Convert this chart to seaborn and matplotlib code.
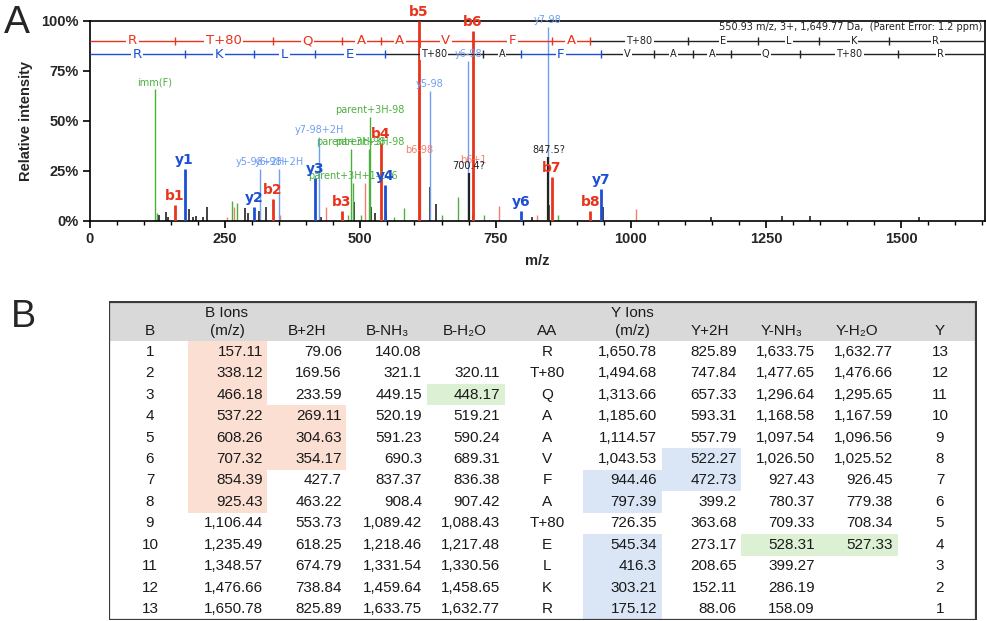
import numpy as np
import pandas as pd
import matplotlib
matplotlib.use("Agg")
import matplotlib.pyplot as plt
import seaborn as sns
from matplotlib.patches import Rectangle
from matplotlib.ticker import MultipleLocator, FuncFormatter

# ---------------- data: fragment table ----------------
aa = ["R", "T+80", "Q", "A", "A", "V", "F", "A", "T+80", "E", "L", "K", "R"]
b_num = [str(i) for i in range(1, 14)]
b_ions = ["157.11", "338.12", "466.18", "537.22", "608.26", "707.32", "854.39", "925.43",
          "1,106.44", "1,235.49", "1,348.57", "1,476.66", "1,650.78"]
b_2h = ["79.06", "169.56", "233.59", "269.11", "304.63", "354.17", "427.7", "463.22",
        "553.73", "618.25", "674.79", "738.84", "825.89"]
b_nh3 = ["140.08", "321.1", "449.15", "520.19", "591.23", "690.3", "837.37", "908.4",
         "1,089.42", "1,218.46", "1,331.54", "1,459.64", "1,633.75"]
b_h2o = ["", "320.11", "448.17", "519.21", "590.24", "689.31", "836.38", "907.42",
         "1,088.43", "1,217.48", "1,330.56", "1,458.65", "1,632.77"]
y_ions = ["1,650.78", "1,494.68", "1,313.66", "1,185.60", "1,114.57", "1,043.53", "944.46",
          "797.39", "726.35", "545.34", "416.3", "303.21", "175.12"]
y_2h = ["825.89", "747.84", "657.33", "593.31", "557.79", "522.27", "472.73", "399.2",
        "363.68", "273.17", "208.65", "152.11", "88.06"]
y_nh3 = ["1,633.75", "1,477.65", "1,296.64", "1,168.58", "1,097.54", "1,026.50", "927.43",
         "780.37", "709.33", "528.31", "399.27", "286.19", "158.09"]
y_h2o = ["1,632.77", "1,476.66", "1,295.65", "1,167.59", "1,096.56", "1,025.52", "926.45",
         "779.38", "708.34", "527.33", "", "", ""]
y_num = [str(i) for i in range(13, 0, -1)]

# highlighted cells (row numbers, 1-based)
hl_b_ions = [1, 2, 3, 4, 5, 6, 7, 8]
hl_b_2h = [4, 5, 6]
hl_b_h2o = [3]
hl_y_ions = [7, 8, 10, 11, 12, 13]
hl_y_2h = [6, 7]
hl_y_nh3 = [10]
hl_y_h2o = [10]

# ---------------- data: spectrum ----------------
b_obs = [1, 2, 3, 4, 5, 6, 7, 8]
b_obs_int = [8, 11, 5, 39, 100, 95, 22, 5]
y_obs = [1, 2, 3, 4, 6, 7]
y_obs_int = [26, 7, 21.5, 18, 5, 16]

nl_labels = ["y5-98", "y6-98", "y7-98", "y5-98+2H", "y6-98+2H", "y7-98+2H", "b6-98", "b6+1"]
nl_mz = [628.35, 699.39, 846.46, 314.68, 350.20, 423.73, 609.30, 708.32]
nl_int = [65, 80, 97, 26, 26, 42, 32, 27]
nl_kind = ["ylight", "ylight", "ylight", "ylight", "ylight", "ylight", "blight", "blight"]

gr_labels = ["imm(F)", "parent+3H-98", "parent+3H-98", "parent+3H-98", "parent+3H+1-106"]
gr_mz = [120.08, 518.26, 483.0, 516.5, 486.0]
gr_int = [66, 52, 36, 36, 19]

unk_labels = ["700.4?", "847.5?"]
unk_mz = [700.4, 847.5]
unk_int = [24, 32]

small_k_mz = [128, 141, 144, 183, 190, 196, 209, 217, 287, 292, 313, 326, 428, 489, 520, 527,
              548, 629, 639, 709, 818, 849, 948, 1148, 1279, 1331, 1533]
small_k_int = [3, 4.5, 2, 6, 2, 2.5, 2, 7, 6.5, 4, 5, 7, 2, 9.5, 7, 4,
               5, 17, 8.5, 3, 2, 8, 7, 2, 2.5, 2.5, 2]
small_g_mz = [124, 263, 272, 478, 502, 563, 580, 650, 680, 728, 865]
small_g_int = [4, 10, 9, 3, 3, 2, 6.5, 3, 12, 3, 3]
small_r_mz = [254, 267, 352, 437, 509, 609, 757, 826, 1009]
small_r_int = [2, 7, 3, 7, 19, 9, 7.5, 3, 6]

info_text = "550.93 m/z, 3+, 1,649.77 Da,  (Parent Error: 1.2 ppm)"

# ---------------- style ----------------
sns.set_theme(style="ticks")
plt.rcParams["font.family"] = ["Liberation Sans", "DejaVu Sans"]

C = {"b": "#e8341c", "y": "#1c4fd4", "blight": "#f3806f", "ylight": "#6f9ff2",
     "g": "#4caf3e", "k": "#222222"}

def to_num(s):
    return float(s.replace(",", ""))

b_mz = [to_num(s) for s in b_ions]
y_mz_desc = [to_num(s) for s in y_ions]
y_mz = y_mz_desc[::-1]          # y1 .. y13

fig = plt.figure(figsize=(9.87, 6.21), dpi=100)
ax = fig.add_axes([90 / 987, 1 - 221 / 621, (985 - 90) / 987, 200 / 621])
XMAX = 1655

# assemble peak table
rows = []
for m, i in zip(small_r_mz, small_r_int):
    rows.append(("", m, i, "blight", 1.0))
for m, i in zip(small_g_mz, small_g_int):
    rows.append(("", m, i, "g", 1.0))
for m, i in zip(small_k_mz, small_k_int):
    rows.append(("", m, i, "k", 1.2))
for l, m, i in zip(gr_labels, gr_mz, gr_int):
    rows.append((l, m, i, "g", 1.0))
for l, m, i, k in zip(nl_labels, nl_mz, nl_int, nl_kind):
    rows.append((l, m, i, k, 1.0))
for l, m, i in zip(unk_labels, unk_mz, unk_int):
    rows.append((l, m, i, "k", 1.6))
for n, i in zip(b_obs, b_obs_int):
    rows.append((f"b{n}", b_mz[n - 1], i, "b", 2.0))
for n, i in zip(y_obs, y_obs_int):
    rows.append((f"y{n}", y_mz[n - 1], i, "y", 2.0))
peaks = pd.DataFrame(rows, columns=["label", "mz", "intensity", "kind", "lw"])

for _, r in peaks.iterrows():
    ax.vlines(r.mz, 0, r.intensity, color=C[r.kind], lw=r.lw, zorder=2 if r.lw < 1.5 else 3)
    if r.label:
        main = r.kind in ("b", "y")
        ax.text(r.mz, r.intensity + 0.8, r.label, ha="center", va="bottom",
                color=C[r.kind], fontsize=10 if main else 7,
                fontweight="bold" if main else "normal",
                family="DejaVu Sans", clip_on=False, zorder=5)

# sequence ladders
def ladder(yv, bounds, letters, observed, color):
    n = len(letters)
    for i in range(n):
        x0 = bounds[i]
        x1 = bounds[i + 1] if i + 1 < n else XMAX
        col = observed[i] and observed[i + 1]
        c = color if col else C["k"]
        ax.plot([x0, x1], [yv, yv], color=c, lw=1.0, zorder=4, solid_capstyle="butt")
        xm = (bounds[i] + bounds[i + 1]) / 2
        ax.text(xm, yv, letters[i], ha="center", va="center", color=c,
                fontsize=9.5 if col else 7, family="DejaVu Sans", zorder=6,
                bbox=dict(boxstyle="square,pad=0.12", fc="white", ec="none"))
    for j in range(1, n):
        c = color if observed[j] else C["k"]
        ax.vlines(bounds[j], yv - 2, yv + 2, color=c, lw=1.0, zorder=7)

b_bounds = [0] + b_mz
b_seen = [True] + [(k + 1) in b_obs for k in range(13)]
ladder(90, b_bounds, aa, b_seen, C["b"])
y_bounds = [0] + y_mz
y_seen = [True] + [(k + 1) in y_obs for k in range(13)]
ladder(83.5, y_bounds, aa[::-1], y_seen, C["y"])

ax.text(0.997, 0.968, info_text, transform=ax.transAxes, ha="right", va="center",
        fontsize=7, family="DejaVu Sans", color="#222222")

ax.set_xlim(0, XMAX)
ax.set_ylim(0, 100)
ax.set_xticks(range(0, 1501, 250))
ax.xaxis.set_minor_locator(MultipleLocator(50))
ax.set_yticks([0, 25, 50, 75, 100])
ax.yaxis.set_major_formatter(FuncFormatter(lambda v, p: f"{int(v)}%"))
ax.tick_params(axis="both", which="major", length=5, width=1.2, direction="out",
               labelsize=10.5, pad=3, color="black")
ax.tick_params(axis="x", which="minor", length=3, width=1.0, direction="out", color="black")
for lab in ax.get_xticklabels() + ax.get_yticklabels():
    lab.set_fontweight("bold")
for s in ax.spines.values():
    s.set_visible(True)
    s.set_color("black")
    s.set_linewidth(1.2)
ax.set_xlabel("m/z", fontsize=10.5, fontweight="bold", labelpad=6)
ax.set_ylabel("Relative intensity", fontsize=10.5, fontweight="bold", labelpad=6)

fig.text(4 / 987, 1 - 33 / 621, "A", fontsize=28, va="baseline", ha="left")
fig.text(11 / 987, 1 - 327 / 621, "B", fontsize=27, va="baseline", ha="left")

# ---------------- table ----------------
tx = fig.add_axes([109 / 987, 1 - 620 / 621, 868 / 987, 319 / 621])
tx.set_xlim(109, 977)
tx.set_ylim(620, 301)
tx.axis("off")
HEAD_TOP, HEAD_BOT, BOT = 301, 341, 620
RH = (BOT - HEAD_BOT) / 13
tx.add_patch(Rectangle((109, HEAD_TOP), 868, HEAD_BOT - HEAD_TOP, fc="#d9d9d9", ec="none"))

PEACH, GREEN, BLUE = "#fbdfd2", "#dcf0d4", "#dae6f5"
columns = [
    # header, values, align, text x, cell x0, cell x1, highlights, colour
    (["B"], b_num, "center", 150, None, None, [], None),
    (["B Ions", "(m/z)"], b_ions, "right", 263, 188, 267, hl_b_ions, PEACH),
    (["B+2H"], b_2h, "right", 342, 267, 346, hl_b_2h, PEACH),
    (["B-NH₃"], b_nh3, "right", 422, 346, 427, [], None),
    (["B-H₂O"], b_h2o, "right", 500, 427, 505, hl_b_h2o, GREEN),
    (["AA"], aa, "center", 547, None, None, [], None),
    (["Y Ions", "(m/z)"], y_ions, "right", 657, 583, 662, hl_y_ions, BLUE),
    (["Y+2H"], y_2h, "right", 737, 662, 741, hl_y_2h, BLUE),
    (["Y-NH₃"], y_nh3, "right", 815, 741, 820, hl_y_nh3, GREEN),
    (["Y-H₂O"], y_h2o, "right", 893, 820, 898, hl_y_h2o, GREEN),
    (["Y"], y_num, "center", 940, None, None, [], None),
]
head_centers = [150, 227, 307, 387, 465, 547, 632, 710, 782, 857, 940]
TF = dict(fontsize=11, color="#1a1a1a")
for (hdr, vals, al, x, c0, c1, hl, hc), hx in zip(columns, head_centers):
    for r in hl:
        tx.add_patch(Rectangle((c0, HEAD_BOT + (r - 1) * RH), c1 - c0, RH, fc=hc, ec="none"))
    if len(hdr) == 2:
        tx.text(hx, 313, hdr[0], ha="center", va="center", **TF)
        tx.text(hx, 331, hdr[1], ha="center", va="center", **TF)
    else:
        tx.text(hx, 331, hdr[0], ha="center", va="center", **TF)
    for i, v in enumerate(vals):
        if v:
            tx.text(x, HEAD_BOT + (i + 0.5) * RH, v, ha=al, va="center", **TF)
tx.add_patch(Rectangle((109.5, 301.5), 867, 318, fill=False, ec="#3a3a3a", lw=1.6))

fig.savefig("out.png", dpi=100)
